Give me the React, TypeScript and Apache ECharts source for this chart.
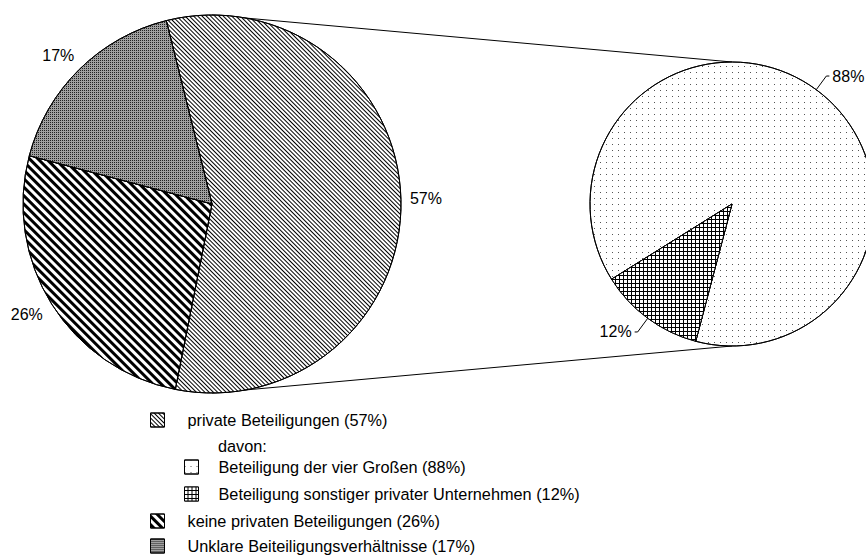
import React, { useEffect, useRef } from 'react';
import * as echarts from 'echarts';

// ---- data ----
const mainNames = [
  'private Beteiligungen (57%)',
  'keine privaten Beteiligungen (26%)',
  'Unklare Beiteiligungsverhältnisse (17%)',
];
const mainValues = [57, 26, 17];
const subNames = [
  'Beteiligung der vier Großen (88%)',
  'Beteiligung sonstiger privater Unternehmen (12%)',
];
const subValues = [88, 12];
const subHeading = 'davon:';

// ---- layout / style ----
const FONT = "'Liberation Sans', Arial, sans-serif";
const W = 866;
const H = 560;
const MAIN = { cx: 212, cy: 204, r: 189, start: 104 };
const SUB = { cx: 732, cy: 204, r: 142, start: 212 };
const LEGEND_FS = 16.3;

const decalFineDiag = {
  symbol: 'rect', symbolSize: 1, color: '#000',
  dashArrayX: [1, 0], dashArrayY: [1, 1.9], rotation: Math.PI / 4,
};
const decalWideDiag = {
  symbol: 'rect', symbolSize: 1, color: '#000',
  dashArrayX: [1, 0], dashArrayY: [3, 3], rotation: Math.PI / 4,
};
const decalGray = {
  symbol: 'rect', symbolSize: 1, color: '#222',
  dashArrayX: [1, 1], dashArrayY: [1, 1],
};
const decalDots = {
  symbol: 'rect', symbolSize: 1, color: '#555',
  dashArrayX: [1, 5], dashArrayY: [1, 5],
};
const decalGrid = {
  symbol: 'rect', symbolSize: 1, color: '#fff',
  dashArrayX: [3, 1], dashArrayY: [3, 1],
};

const mainStyles = [
  { color: '#fff', decal: decalFineDiag },
  { color: '#fff', decal: decalWideDiag },
  { color: '#a0a0a0', decal: decalGray },
];
const subStyles = [
  { color: '#fff', decal: decalDots },
  { color: '#000', decal: decalGrid },
];

function midAngles(values: number[], startDeg: number) {
  const sum = values.reduce((a, b) => a + b, 0);
  const theta0 = 90 - startDeg; // clockwise from 12 o'clock
  let cum = 0;
  return values.map((v) => {
    const m = theta0 + ((cum + v / 2) / sum) * 360;
    cum += v;
    return (m * Math.PI) / 180;
  });
}

export default function App() {
  const ref = useRef<HTMLDivElement>(null);
  useEffect(() => {
    if (!ref.current) return;
    const chart = echarts.init(ref.current, undefined, { renderer: 'svg' });
    const mainMids = midAngles(mainValues, MAIN.start);

    const legendCommon = {
      orient: 'vertical',
      itemWidth: 14,
      itemHeight: 14,
      itemGap: 9,
      padding: 0,
      selectedMode: false,
      icon: 'rect',
      itemStyle: { borderColor: '#000', borderWidth: 1 },
      textStyle: {
        fontSize: LEGEND_FS, fontFamily: FONT, color: '#000', lineHeight: 18,
        padding: [0, 0, 0, 18],
      },
    };

    chart.setOption({
      animation: false,
      backgroundColor: '#fff',
      legend: [
        { ...legendCommon, data: [mainNames[0]], left: 150, top: 411 },
        {
          ...legendCommon, data: subNames, left: 184, top: 458,
          textStyle: { ...legendCommon.textStyle, padding: [0, 0, 0, 15] },
        },
        { ...legendCommon, data: [mainNames[1], mainNames[2]], left: 150, top: 512, itemGap: 7 },
      ],
      graphic: [
        {
          type: 'line', z: 1, silent: true,
          shape: { x1: MAIN.cx, y1: MAIN.cy - MAIN.r, x2: SUB.cx, y2: SUB.cy - SUB.r },
          style: { stroke: '#000', lineWidth: 1 },
        },
        {
          type: 'line', z: 1, silent: true,
          shape: { x1: MAIN.cx, y1: MAIN.cy + MAIN.r, x2: SUB.cx, y2: SUB.cy + SUB.r },
          style: { stroke: '#000', lineWidth: 1 },
        },
        {
          type: 'text', x: 218, y: 446, silent: true,
          style: { text: subHeading, fontSize: LEGEND_FS, fontFamily: FONT, fill: '#000', verticalAlign: 'middle' },
        },
      ],
      series: [
        {
          type: 'pie',
          center: [MAIN.cx, MAIN.cy],
          radius: [0, MAIN.r],
          startAngle: MAIN.start,
          clockwise: true,
          silent: true,
          avoidLabelOverlap: false,
          percentPrecision: 0,
          itemStyle: { borderColor: '#000', borderWidth: 1 },
          label: {
            show: true, position: 'outside', formatter: '{d}%',
            fontSize: 16, fontFamily: FONT, color: '#000',
          },
          labelLine: { show: false, length: 8, length2: 0 },
          labelLayout: (p: any) => {
            const a = mainMids[p.dataIndex];
            const dx = Math.sin(a);
            const dy = -Math.cos(a);
            const w = p.labelRect.width;
            const h = p.labelRect.height;
            const d = MAIN.r + 11;
            return {
              x: MAIN.cx + d * dx + (dx * w) / 2 - 2,
              y: MAIN.cy + d * dy + (dy * h) / 2,
              align: 'center',
              verticalAlign: 'middle',
            };
          },
          data: mainNames.map((n, i) => ({ name: n, value: mainValues[i], itemStyle: mainStyles[i] })),
        },
        {
          type: 'pie',
          center: [SUB.cx, SUB.cy],
          radius: [0, SUB.r],
          startAngle: SUB.start,
          clockwise: true,
          silent: true,
          avoidLabelOverlap: false,
          percentPrecision: 0,
          itemStyle: { borderColor: '#000', borderWidth: 1 },
          label: {
            show: true, position: 'outside', formatter: '{d}%',
            fontSize: 16, fontFamily: FONT, color: '#000',
            distanceToLabelLine: 3, bleedMargin: 0,
          },
          labelLine: { show: true, length: 17, length2: 3, lineStyle: { color: '#000', width: 1 } },
          data: subNames.map((n, i) => ({ name: n, value: subValues[i], itemStyle: subStyles[i] })),
        },
      ],
    });
    return () => chart.dispose();
  }, []);
  return (
    <div
      ref={ref}
      style={{ position: 'fixed', left: 0, top: 0, width: W, height: H, background: '#fff' }}
    />
  );
}
